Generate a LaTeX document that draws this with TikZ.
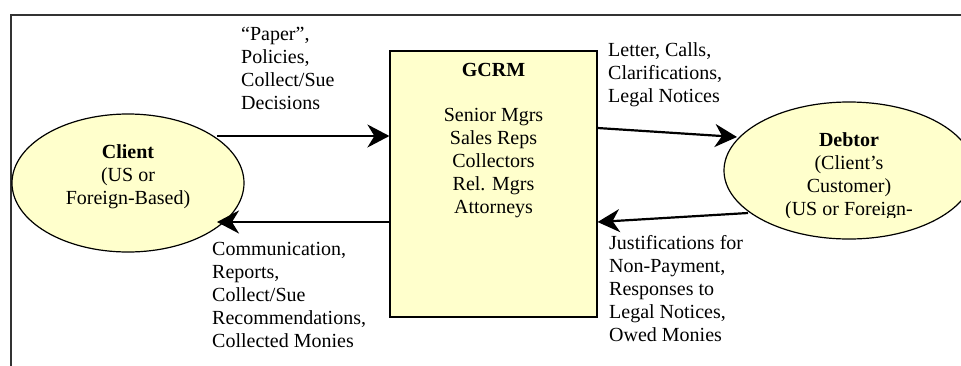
\documentclass[tikz,border=0pt]{standalone}
\usepackage{fontspec}
\setmainfont{Liberation Serif}
\usetikzlibrary{arrows.meta,shapes.geometric}
\definecolor{boxfill}{RGB}{255,255,204}
\definecolor{framecol}{RGB}{51,51,51}
\tikzset{
  txt/.style={font=\fontsize{20}{23}\selectfont, inner sep=0pt},
  lbl/.style={txt, align=left, anchor=base west},
  ctr/.style={txt, align=center, anchor=base},
  shapebox/.style={draw=black, line width=1.2pt, fill=boxfill, inner sep=0pt},
  arr/.style={line width=2.2pt, -{Stealth[length=22pt, width=23pt, inset=7pt]}},
}
\begin{document}
\begin{tikzpicture}[x=1pt, y=-1pt]
\useasboundingbox (0,0) rectangle (961,365);
\clip (0,0) rectangle (961,365);
% frame
\draw[framecol, line width=2pt] (11,366) -- (11,15) -- (962,15);
% shapes
\node[shapebox, ellipse, minimum width=232pt, minimum height=138pt] (client) at (128,183) {};
\node[shapebox, rectangle, minimum width=207pt, minimum height=266pt] (gcrm) at (493.5,184) {};
\node[shapebox, ellipse, minimum width=250pt, minimum height=137pt] (debtor) at (849,170.5) {};
% texts (anchored at the baseline of their last line)
\node[ctr] (clienttxt) at (128,204) {\textbf{Client}\\(US or\\Foreign-Based)};
\node[ctr] (gcrmtxt) at (493.5,213) {\textbf{GCRM}\\[22pt]Senior Mgrs\\Sales Reps\\Collectors\\Rel. Mgrs\\Attorneys};
\begin{scope}
\clip (730,120) rectangle (960,217);
\node[ctr] (debtortxt) at (849,215) {\textbf{Debtor}\\(Client’s\\Customer)\\(US or Foreign-};
\end{scope}
% labels
\node[lbl] (l1) at (241,109) {“Paper”,\\Policies,\\Collect/Sue\\Decisions};
\node[lbl] (l2) at (212,347) {Communication,\\Reports,\\Collect/Sue\\Recommendations,\\Collected Monies};
\node[lbl] (l3) at (608,102) {Letter, Calls,\\Clarifications,\\Legal Notices};
\node[lbl] (l4) at (609,341) {Justifications for\\Non-Payment,\\Responses to\\Legal Notices,\\Owed Monies};
% connectors
\coordinate (a1s) at (217,136);
\coordinate (a2e) at (217,222);
\coordinate (a3s) at (597,128);
\coordinate (a3e) at (737,137);
\coordinate (a4s) at (748,213);
\coordinate (a4e) at (597,222);
\draw[arr] (a1s) -- (a1s -| gcrm.west);
\draw[arr] (a2e -| gcrm.west) -- (a2e);
\draw[arr] (a3s -| gcrm.east) -- (a3e);
\draw[arr] (a4s) -- (a4e -| gcrm.east);
\end{tikzpicture}
\end{document}
